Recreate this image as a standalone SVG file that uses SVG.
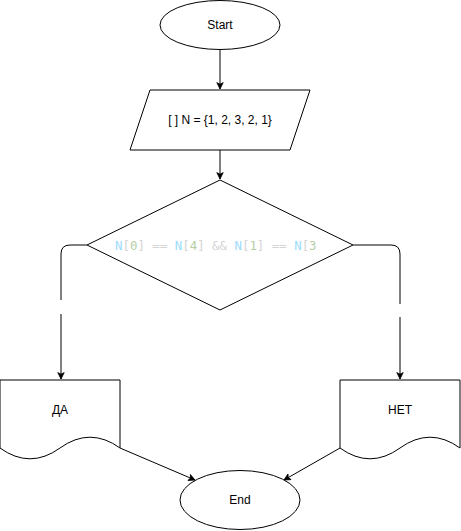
<svg xmlns="http://www.w3.org/2000/svg" width="461" height="531" viewBox="0 0 461 531">
<style>
.s{fill:#fff;stroke:#000;stroke-width:1}
.t{font-family:"Liberation Sans",Arial,sans-serif;font-size:12px;fill:#000;text-anchor:middle;dominant-baseline:central}
.c{fill:none;stroke:#000;stroke-width:1}
.m{font-family:"DejaVu Sans Mono",monospace;font-size:12.4px;fill:#D4D4D4}
.v{fill:#9CDCFE}
.n{fill:#B5CEA8}
</style>
<defs>
<marker id="a" viewBox="0 0 10 10" refX="9" refY="5" markerWidth="8" markerHeight="8" markerUnits="userSpaceOnUse" orient="auto">
<path d="M1,1 L9,5 L1,9 L3,5 Z" fill="#000" stroke="#000"/>
</marker>
</defs>
<g id="connectors">
<path class="c" d="M220,50 V89" marker-end="url(#a)"/>
<path class="c" d="M220,150 V179" marker-end="url(#a)"/>
<path class="c" d="M87,245 H70 Q61,245 61,254 V300 M61,314 V379" marker-end="url(#a)"/>
<path class="c" d="M353,245 H391 Q400,245 400,254 V304 M400,317 V379" marker-end="url(#a)"/>
<path class="c" d="M120,448 L195,480" marker-end="url(#a)"/>
<path class="c" d="M340,448 L284,480" marker-end="url(#a)"/>
</g>
<g id="start">
<ellipse class="s" cx="220" cy="25" rx="60" ry="24.5"/>
<text class="t" x="220" y="25">Start</text>
</g>
<g id="array">
<polygon class="s" points="150,90 310,90 290,150 130,150"/>
<text class="t" x="220" y="120">[ ] N = {1, 2, 3, 2, 1}</text>
</g>
<g id="condition">
<polygon class="s" points="220,180 353,245 220,310 87,245"/>
<text class="m" x="115" y="249.5"><tspan class="v">N</tspan>[<tspan class="n">0</tspan>] == <tspan class="v">N</tspan>[<tspan class="n">4</tspan>] &amp;&amp; <tspan class="v">N</tspan>[<tspan class="n">1</tspan>] == <tspan class="v">N</tspan>[<tspan class="n">3</tspan></text>
</g>
<g id="yes">
<path class="s" d="M0,380 H120 V448 Q90,426.4 60,448 Q30,469.6 0,448 Z"/>
<text class="t" x="60" y="410">ДА</text>
</g>
<g id="no">
<path class="s" d="M340,380 H460 V448 Q430,426.4 400,448 Q370,469.6 340,448 Z"/>
<text class="t" x="400" y="410">НЕТ</text>
</g>
<g id="end">
<ellipse class="s" cx="240" cy="500" rx="60" ry="29.5"/>
<text class="t" x="240" y="500">End</text>
</g>
</svg>
